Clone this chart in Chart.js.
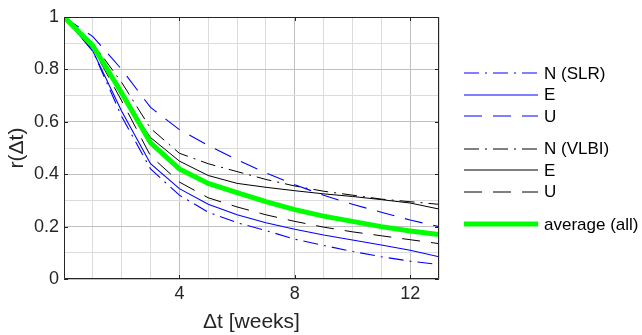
<!DOCTYPE html>
<html>
<head>
<meta charset="utf-8">
<script src="https://cdn.jsdelivr.net/npm/chart.js@4.4.0/dist/chart.umd.min.js"></script>
<style>
  html, body { margin: 0; padding: 0; background: #ffffff; }
  #wrap { width: 642px; height: 335px; position: relative; }
</style>
</head>
<body>
<div id="wrap"><canvas id="c" width="642" height="335"></canvas></div>
<script>
// ---- data ----
const weeks   = [0, 1, 2, 3, 4, 5, 6, 7, 8, 9, 10, 11, 12, 13];
const nSLR    = [1, 0.87, 0.62, 0.42, 0.32, 0.255, 0.215, 0.185, 0.152, 0.128, 0.105, 0.085, 0.068, 0.055];
const eSLR    = [1, 0.87, 0.64, 0.44, 0.345, 0.285, 0.245, 0.215, 0.19, 0.168, 0.149, 0.13, 0.11, 0.085];
const uSLR    = [1, 0.925, 0.80, 0.655, 0.57, 0.51, 0.455, 0.405, 0.36, 0.32, 0.285, 0.255, 0.225, 0.20];
const nVLBI   = [1, 0.90, 0.75, 0.575, 0.48, 0.44, 0.41, 0.38, 0.355, 0.335, 0.32, 0.305, 0.295, 0.285];
const eVLBI   = [1, 0.88, 0.70, 0.54, 0.45, 0.395, 0.365, 0.35, 0.337, 0.325, 0.315, 0.303, 0.29, 0.267];
const uVLBI   = [1, 0.88, 0.68, 0.47, 0.37, 0.31, 0.275, 0.245, 0.22, 0.198, 0.18, 0.165, 0.15, 0.135];
const avgAll  = [1, 0.89, 0.71, 0.52, 0.42, 0.365, 0.33, 0.295, 0.265, 0.24, 0.22, 0.20, 0.183, 0.17];
const seriesLabels = ['N (SLR)', 'E', 'U', 'N (VLBI)', 'E', 'U', 'average (all)'];
const xTickLabels = [4, 8, 12];
const yTickLabels = [0, 0.2, 0.4, 0.6, 0.8, 1];
const xTitle = '\u0394t [weeks]';
const yTitle = 'r(\u0394t)';

const FONT = '"Liberation Sans", Arial, Helvetica, sans-serif';
const BLUE = '#0000ff', BLACK = '#000000', GREEN = '#00ff00';
const DASHDOT = [15, 6, 2, 6];
const DASHED = [18, 11];

function pts(arr) { return arr.map((v, i) => ({ x: weeks[i], y: v })); }

const datasets = [
  { label: seriesLabels[0], data: pts(nSLR),  borderColor: BLUE,  borderWidth: 1.1, borderDash: DASHDOT, group: 0 },
  { label: seriesLabels[1], data: pts(eSLR),  borderColor: BLUE,  borderWidth: 1.1, borderDash: [],      group: 0 },
  { label: seriesLabels[2], data: pts(uSLR),  borderColor: BLUE,  borderWidth: 1.1, borderDash: DASHED,  group: 0 },
  { label: seriesLabels[3], data: pts(nVLBI), borderColor: BLACK, borderWidth: 1,   borderDash: DASHDOT, group: 1 },
  { label: seriesLabels[4], data: pts(eVLBI), borderColor: BLACK, borderWidth: 1,   borderDash: [],      group: 1 },
  { label: seriesLabels[5], data: pts(uVLBI), borderColor: BLACK, borderWidth: 1,   borderDash: DASHED,  group: 1 },
  { label: seriesLabels[6], data: pts(avgAll), borderColor: GREEN, borderWidth: 5,  borderDash: [],      group: 2, order: -1 }
].map(d => Object.assign({ fill: false, pointRadius: 0, tension: 0, borderCapStyle: 'butt', borderJoinStyle: 'miter' }, d));

const near = (v, list) => list.some(t => Math.abs(v - t) < 1e-6);

// box, inner ticks and legend
const decorPlugin = {
  id: 'decor',
  afterDatasetsDraw(chart) {
    const ctx = chart.ctx, a = chart.chartArea;
    const xs = chart.scales.x, ys = chart.scales.y;
    ctx.save();
    ctx.strokeStyle = '#262626';
    ctx.lineWidth = 1;
    ctx.setLineDash([]);
    ctx.beginPath();
    ctx.rect(Math.round(a.left) + 0.5, Math.round(a.top) + 0.5, Math.round(a.right - a.left) - 1, Math.round(a.bottom - a.top) - 1);
    ctx.stroke();
    const tl = 4;
    ctx.beginPath();
    xTickLabels.forEach(v => {
      const px = Math.round(xs.getPixelForValue(v)) + 0.5;
      ctx.moveTo(px, a.bottom); ctx.lineTo(px, a.bottom - tl);
      ctx.moveTo(px, a.top); ctx.lineTo(px, a.top + tl);
    });
    yTickLabels.forEach(v => {
      const py = Math.round(ys.getPixelForValue(v)) + 0.5;
      ctx.moveTo(a.left, py); ctx.lineTo(a.left + tl, py);
      ctx.moveTo(a.right, py); ctx.lineTo(a.right - tl, py);
    });
    ctx.stroke();
    ctx.restore();
  },
  afterDraw(chart) {
    const ctx = chart.ctx;
    const x0 = 464, x1 = 538, tx = 544;
    const rowGap = 21.5, groupGap = 32.5;
    let y = 73;
    ctx.save();
    ctx.font = '17px ' + FONT;
    ctx.textBaseline = 'middle';
    ctx.textAlign = 'left';
    let prevGroup = null;
    chart.data.datasets.forEach((d) => {
      if (prevGroup !== null) y += (d.group !== prevGroup) ? groupGap : rowGap;
      prevGroup = d.group;
      const ly = Math.round(y);
      ctx.strokeStyle = d.borderColor;
      ctx.lineWidth = d.borderWidth;
      ctx.setLineDash(d.borderDash || []);
      ctx.beginPath();
      ctx.moveTo(x0, ly);
      ctx.lineTo(x1, ly);
      ctx.stroke();
      ctx.setLineDash([]);
      ctx.fillStyle = '#000000';
      ctx.fillText(d.label, tx, y + 1);
    });
    ctx.restore();
  }
};

new Chart(document.getElementById('c'), {
  type: 'line',
  data: { datasets },
  options: {
    responsive: false,
    animation: false,
    devicePixelRatio: 1,
    layout: { padding: { left: 0, right: 203, top: 17, bottom: 0 } },
    plugins: { legend: { display: false }, tooltip: { enabled: false } },
    scales: {
      x: {
        type: 'linear', min: 0, max: 13,
        afterFit(s) { s.height = 56; },
        border: { display: false },
        grid: {
          drawTicks: false,
          color: ctx => near(ctx.tick.value, xTickLabels) ? '#c0c0c0' : '#dcdcdc',
          lineWidth: 1
        },
        ticks: {
          stepSize: 1, autoSkip: false, maxRotation: 0, padding: 4,
          color: '#262626', font: { family: FONT, size: 18 },
          callback: v => near(v, xTickLabels) ? String(v) : ''
        },
        title: { display: true, text: xTitle, color: '#262626', font: { family: FONT, size: 21 }, padding: { top: 0, bottom: 0 } }
      },
      y: {
        type: 'linear', min: 0, max: 1,
        afterFit(s) { s.width = 64; },
        border: { display: false },
        grid: {
          drawTicks: false,
          color: ctx => near(ctx.tick.value, yTickLabels) ? '#c0c0c0' : '#dcdcdc',
          lineWidth: 1
        },
        ticks: {
          stepSize: 0.1, autoSkip: false, padding: 5,
          color: '#262626', font: { family: FONT, size: 18 },
          callback: v => near(v, yTickLabels) ? String(Math.round(v * 10) / 10) : ''
        },
        title: { display: true, text: yTitle, color: '#262626', font: { family: FONT, size: 21 }, padding: { top: 5, bottom: 0 } }
      }
    }
  },
  plugins: [decorPlugin]
});
</script>
</body>
</html>
